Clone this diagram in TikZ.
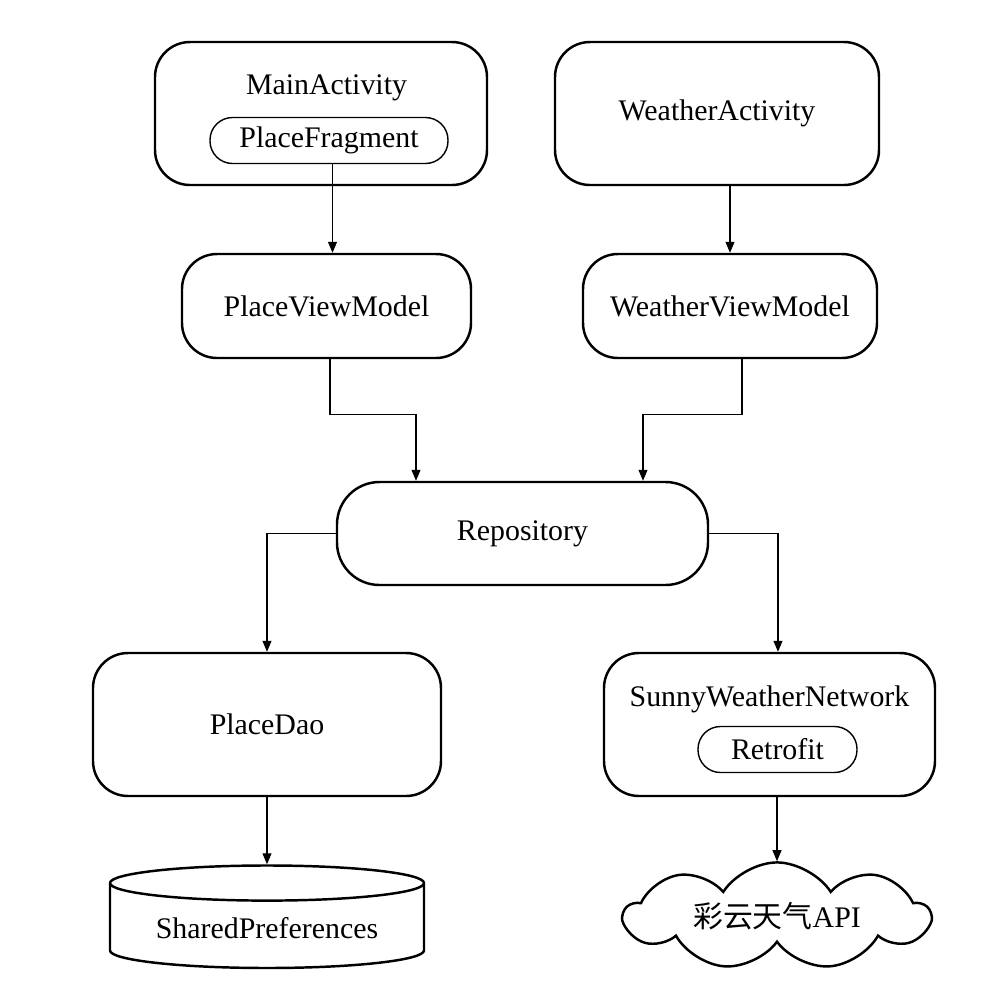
\documentclass[tikz,border=0pt]{standalone}
\usepackage{fontspec}
\setmainfont{Liberation Serif}
\newfontfamily\cjk{Noto Sans CJK SC}
\usepackage{tikz}
\usetikzlibrary{arrows.meta,positioning,shapes.geometric,shapes.symbols}

\begin{document}
\begin{tikzpicture}[
        font=\fontsize{17}{20}\selectfont,
        block/.style={
            draw,
            line width=1.4pt,
            rounded corners=0.7cm,
            align=center
        },
        inner/.style={
            draw,
            line width=0.8pt,
            rounded corners=0.45cm,
            minimum height=0.92cm,
            inner sep=0pt
        },
        title/.style={inner sep=0pt},
        store/.style={
            cylinder,
            draw,
            line width=1.4pt,
            shape border rotate=90,
            aspect=0.15,
            minimum width=6.28cm,
            minimum height=2.05cm
        },
        api/.style={
            cloud,
            draw,
            line width=1.4pt,
            cloud puffs=9,
            cloud puff arc=115,
            aspect=4,
            inner ysep=0pt,
            minimum width=6.1cm,
            minimum height=1.5cm
        },
        line/.style={-{Triangle[length=2.2mm,width=1.8mm]},line width=0.6pt}
    ]
        \useasboundingbox (0,0) rectangle (20.12,-20.08);

        % activities
        \node[block, minimum width=6.64cm, minimum height=2.86cm] (mainact) at (6.42,-2.27) {};
        \node[title] (mainlbl) at (6.53,-1.76) {MainActivity};
        \node[inner, minimum width=4.76cm] (placefrag) at (6.58,-2.81) {PlaceFragment};
        \node[block, minimum width=6.48cm, minimum height=2.86cm] (weatheract) at (14.34,-2.27) {WeatherActivity};

        % view models
        \node[block, minimum width=5.78cm, minimum height=2.08cm] (placevm) at (6.53,-6.12) {PlaceViewModel};
        \node[block, minimum width=5.88cm, minimum height=2.08cm] (weathervm) at (14.6,-6.12) {WeatherViewModel};

        % repository
        \node[block, rounded corners=0.85cm, minimum width=7.42cm, minimum height=2.06cm] (repo) at (10.45,-10.67) {Repository};

        % data sources
        \node[block, minimum width=6.96cm, minimum height=2.86cm] (placedao) at (5.34,-14.49) {PlaceDao};
        \node[block, minimum width=6.62cm, minimum height=2.86cm] (network) at (15.39,-14.49) {};
        \node[title] (netlbl) at (15.39,-13.98) {SunnyWeatherNetwork};
        \node[inner, minimum width=3.18cm] (retrofit) at (15.55,-14.99) {Retrofit};

        \node[store] (prefs) at (5.34,-18.57) {SharedPreferences};
        \node[api] (caiyun) at (15.54,-18.32) {{\cjk 彩云天气}API};

        \draw[line] ([xshift=0.07cm]placefrag.south) -- ([xshift=0.07cm]placefrag.south |- placevm.north);
        \draw[line] (weathervm.north |- weatheract.south) -- (weathervm.north);
        \draw[line] ([xshift=0.07cm]placevm.south) -- ++(0,-1.1) -| ([xshift=-2.13cm]repo.north);
        \draw[line] ([xshift=0.24cm]weathervm.south) -- ++(0,-1.1) -| ([xshift=2.41cm]repo.north);
        \draw[line] (repo.west) -| (placedao.north);
        \draw[line] (repo.east) -| ([xshift=0.17cm]network.north);
        \draw[line] (placedao.south) -- (prefs.north);
        \draw[line] (caiyun.north |- network.south) -- (caiyun.north);
    \end{tikzpicture}
\end{document}
